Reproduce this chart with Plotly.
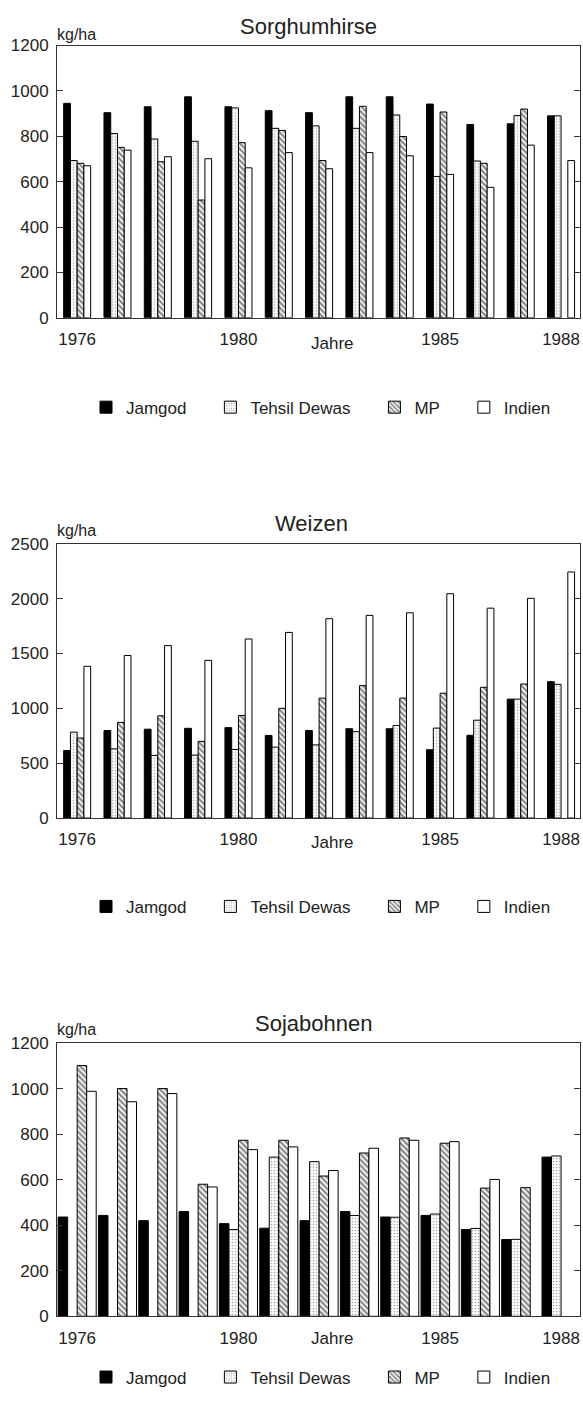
import plotly.graph_objects as go

years = list(range(1976, 1989))
tick_years = [1976, 1980, 1985, 1988]

series_names = ["Jamgod", "Tehsil Dewas", "MP", "Indien"]

sorghum_jamgod = [945, 904, 930, 974, 930, 913, 904, 974, 974, 942, 852, 855, 890]
sorghum_tehsil = [693, 812, 788, 778, 925, 835, 846, 835, 894, 623, 691, 891, 890]
sorghum_mp = [681, 751, 688, 519, 772, 826, 693, 932, 799, 907, 681, 920, None]
sorghum_indien = [670, 739, 710, 701, 661, 728, 657, 728, 714, 632, 575, 761, 693]

weizen_jamgod = [616, 798, 810, 818, 824, 753, 798, 814, 814, 623, 754, 1084, 1243]
weizen_tehsil = [783, 631, 571, 574, 625, 646, 667, 787, 844, 820, 892, 1084, 1219]
weizen_mp = [729, 872, 932, 699, 935, 1000, 1093, 1207, 1093, 1138, 1192, 1222, None]
weizen_indien = [1383, 1482, 1572, 1437, 1632, 1692, 1817, 1847, 1871, 2045, 1913, 2003, 2243]

soja_jamgod = [436, 443, 420, 460, 407, 387, 420, 460, 436, 443, 381, 337, 699]
soja_tehsil = [None, None, None, None, 381, 699, 679, 443, 435, 449, 386, 338, 704]
soja_mp = [1101, 1000, 1000, 580, 773, 773, 616, 717, 783, 760, 563, 565, None]
soja_indien = [988, 942, 978, 568, 732, 744, 640, 738, 773, 767, 601, None, None]

titles = ["Sorghumhirse", "Weizen", "Sojabohnen"]
y_max = [1200, 2500, 1200]
y_step = [200, 500, 200]

W, H = 583, 1424
FONT = "Liberation Sans, Arial, sans-serif"
TXT = "#222222"
LINE = "#333333"

charts = [
    [sorghum_jamgod, sorghum_tehsil, sorghum_mp, sorghum_indien],
    [weizen_jamgod, weizen_tehsil, weizen_mp, weizen_indien],
    [soja_jamgod, soja_tehsil, soja_mp, soja_indien],
]

# layout geometry in page pixels (top-down)
plot_left, plot_right = 57, 580
plot_tb = [(37, 313), (542, 820), (1048, 1325)]
title_y = [18, 521, 1028]
title_x = [308, 311, 313]
unit_y = [26, 529, 1034]
jahre_y = [339, 845, 1347]
legend_y = [404, 910, 1387]
bar_w = [0.1675, 0.1675, 0.236]

def px_x(x):
    return x / W

def px_y(y):
    return 1 - y / H

styles = [
    dict(color="black", pattern=None),
    dict(color="white", pattern=dict(shape=".", size=3, solidity=0.25, fgcolor="#555555", bgcolor="white")),
    dict(color="white", pattern=dict(shape="\\", size=4, solidity=0.55, fgcolor="#111111", bgcolor="white")),
    dict(color="white", pattern=None),
]

PAD = "\u00a0" * 4

fig = go.Figure()
annotations = []
layout_axes = {}

for ci, data in enumerate(charts):
    idx = "" if ci == 0 else str(ci + 1)
    legend_name = "legend" if ci == 0 else "legend" + str(ci + 1)
    bw = bar_w[ci]
    for si, vals in enumerate(data):
        st = styles[si]
        marker = dict(color=st["color"], line=dict(color="black", width=1))
        if st["pattern"] is not None:
            marker["pattern"] = st["pattern"]
        fig.add_trace(go.Bar(
            x=years, y=vals, name=series_names[si] + (PAD if si < 3 else ""),
            marker=marker,
            xaxis="x" + idx, yaxis="y" + idx,
            legend=legend_name,
            width=bw, offset=-2 * bw + si * bw,
        ))
    top, bottom = plot_tb[ci]
    layout_axes["xaxis" + idx] = dict(
        domain=[px_x(plot_left), px_x(plot_right)],
        anchor="y" + idx,
        range=[1975.5, 1988.47],
        tickmode="array", tickvals=tick_years, ticktext=[str(t) for t in tick_years],
        ticks="", showline=True, linecolor=LINE, linewidth=1, mirror=True,
        showgrid=False, zeroline=False,
        tickfont=dict(family=FONT, size=17, color=TXT),
        ticklabelstandoff=6,
    )
    layout_axes["yaxis" + idx] = dict(
        domain=[px_y(bottom), px_y(top)],
        anchor="x" + idx,
        range=[0, y_max[ci]],
        tickmode="linear", tick0=0, dtick=y_step[ci],
        ticks="inside", ticklen=6, tickcolor=LINE,
        showline=True, linecolor=LINE, linewidth=1, mirror="ticks",
        showgrid=False, zeroline=False,
        tickfont=dict(family=FONT, size=17, color=TXT),
        ticklabelstandoff=4,
    )
    annotations.append(dict(
        text=titles[ci], x=px_x(title_x[ci]), y=px_y(title_y[ci]),
        xref="paper", yref="paper", xanchor="center", yanchor="middle",
        showarrow=False, font=dict(family=FONT, size=22, color=TXT)))
    annotations.append(dict(
        text="kg/ha", x=px_x(55), y=px_y(unit_y[ci]),
        xref="paper", yref="paper", xanchor="left", yanchor="middle",
        showarrow=False, font=dict(family=FONT, size=16, color=TXT)))
    annotations.append(dict(
        text="Jahre", x=px_x(332), y=px_y(jahre_y[ci]),
        xref="paper", yref="paper", xanchor="center", yanchor="middle",
        showarrow=False, font=dict(family=FONT, size=17, color=TXT)))
    layout_axes[legend_name] = dict(
        orientation="h", x=px_x(86), y=px_y(legend_y[ci]),
        xanchor="left", yanchor="middle",
        font=dict(family=FONT, size=17, color=TXT),
        bgcolor="rgba(0,0,0,0)", traceorder="normal",
    )

fig.update_layout(
    width=W, height=H,
    margin=dict(l=0, r=0, t=0, b=0),
    paper_bgcolor="white", plot_bgcolor="white",
    barmode="group", bargap=0.33, bargroupgap=0,
    annotations=annotations,
    **layout_axes,
)

fig.write_html(
    "out.html",
    config={"displayModeBar": False},
    post_script="document.body.style.margin='0';document.documentElement.style.overflow='hidden';document.body.style.overflow='hidden';",
)
